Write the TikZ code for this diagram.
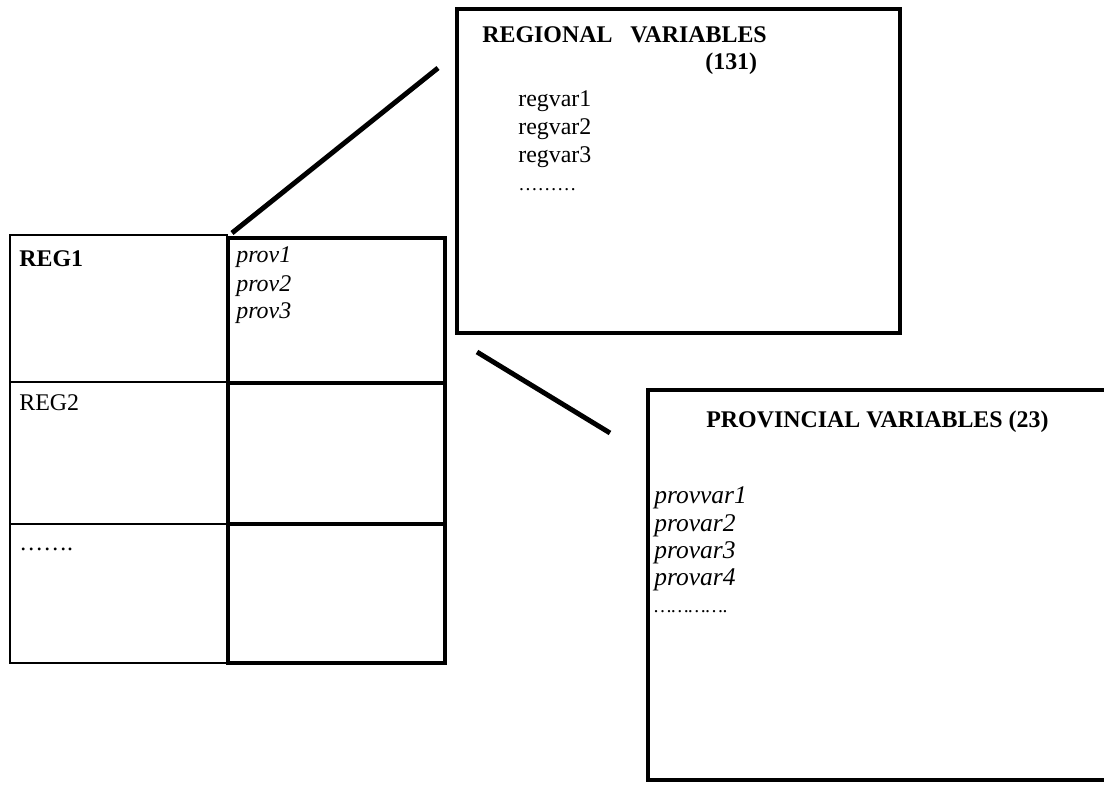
\documentclass[tikz,border=0pt]{standalone}
\usepackage{fontspec}
\setmainfont{Liberation Serif}
\tikzset{
  thinbox/.style={line width=1pt},
  thickbox/.style={line width=2.8pt},
  varbox/.style={line width=2.3pt},
  link/.style={line width=2.8pt},
  txt/.style={anchor=base west,inner sep=0pt}
}
\begin{document}
\begin{tikzpicture}[x=0.2mm,y=-0.2mm,line join=miter,font=\fontsize{13.6}{16.4}\selectfont]
  \useasboundingbox (0,0) rectangle (1104,785);
  % tabella regioni
  \draw[thinbox] (10,235) rectangle (227,663);
  \draw[thinbox] (10,382)--(227,382) (10,524)--(227,524);
  \node[txt,font=\fontsize{13.6}{16.4}\selectfont\bfseries] (reg1) at (19,266) {REG1};
  \node[txt] (reg2) at (19,410) {REG2};
  \node[txt] (regdots) at (19,550) {…….};
  % tabella province
  \draw[thickbox] (228,238) rectangle (445,663);
  \draw[thickbox] (228,383)--(445,383) (228,524)--(445,524);
  \node[txt,font=\fontsize{13.6}{16.4}\selectfont\itshape] (prov1) at (236,263) {prov1};
  \node[txt,font=\fontsize{13.6}{16.4}\selectfont\itshape] (prov2) at (236,291) {prov2};
  \node[txt,font=\fontsize{13.6}{16.4}\selectfont\itshape] (prov3) at (236,318) {prov3};
  % variabili regionali
  \draw[varbox] (457,9) rectangle (900,333);
  \node[txt,font=\fontsize{13.6}{16.4}\selectfont\bfseries] (regtitle) at (482,43) {REGIONAL\ \ \ VARIABLES};
  \node[txt,font=\fontsize{13.6}{16.4}\selectfont\bfseries] (regnum) at (705,70) {(131)};
  \node[txt] (regvar1) at (518,107) {regvar1};
  \node[txt] (regvar2) at (518,135) {regvar2};
  \node[txt] (regvar3) at (518,163) {regvar3};
  \node[txt] (regvardots) at (518,191) {\fontsize{11}{13}\selectfont ………};
  % variabili provinciali
  \draw[varbox] (648,390) rectangle (1112,780);
  \node[txt,font=\fontsize{13.6}{16.4}\selectfont\bfseries] (provtitle) at (706,427) {PROVINCIAL VARIABLES (23)};
  \node[txt,font=\fontsize{14.5}{16.4}\selectfont\itshape] (provvar1) at (654,503) {provvar1};
  \node[txt,font=\fontsize{14.5}{16.4}\selectfont\itshape] (provar2) at (654,531) {provar2};
  \node[txt,font=\fontsize{14.5}{16.4}\selectfont\itshape] (provar3) at (654,558) {provar3};
  \node[txt,font=\fontsize{14.5}{16.4}\selectfont\itshape] (provar4) at (654,585) {provar4};
  \node[txt,font=\fontsize{11}{13}\selectfont\itshape] (provardots) at (654,612) {………….};
  % collegamenti
  \coordinate (l1a) at (232,233);
  \coordinate (l1b) at (438,68);
  \coordinate (l2a) at (477,352);
  \coordinate (l2b) at (610,433);
  \draw[link] (l1a)--(l1b);
  \draw[link] (l2a)--(l2b);
\end{tikzpicture}
\end{document}
